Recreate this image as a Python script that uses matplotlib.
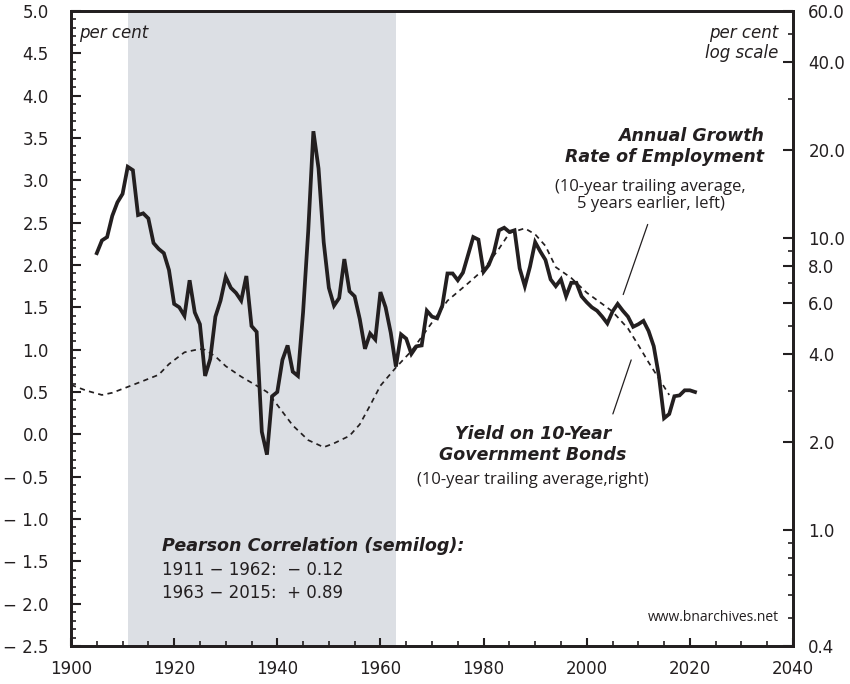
import numpy as np
import matplotlib
matplotlib.use("Agg")
import matplotlib.pyplot as plt
from matplotlib.ticker import FixedLocator, MultipleLocator, NullFormatter

plt.rcParams["font.family"] = ["DejaVu Sans"]

# employment growth, 10-yr trailing avg, 5 years earlier (left axis, %)
emp_years = list(range(1905, 2022))
emp_values = [
    2.14, 2.29, 2.33, 2.58, 2.74, 2.84, 3.16, 3.12, 2.59, 2.61,
    2.55, 2.26, 2.19, 2.14, 1.94, 1.54, 1.50, 1.40, 1.82, 1.44,
    1.30, 0.69, 0.89, 1.39, 1.58, 1.86, 1.73, 1.67, 1.58, 1.87,
    1.28, 1.21, 0.03, -0.24, 0.45, 0.50, 0.88, 1.05, 0.74, 0.69,
    1.44, 2.40, 3.58, 3.14, 2.27, 1.73, 1.52, 1.61, 2.07, 1.69,
    1.63, 1.36, 1.01, 1.19, 1.12, 1.68, 1.50, 1.20, 0.80, 1.18,
    1.13, 0.95, 1.04, 1.05, 1.46, 1.39, 1.37, 1.52, 1.90, 1.90,
    1.82, 1.91, 2.12, 2.33, 2.30, 1.92, 2.00, 2.15, 2.41, 2.44,
    2.39, 2.41, 1.96, 1.75, 1.98, 2.27, 2.16, 2.06, 1.83, 1.75,
    1.83, 1.63, 1.79, 1.79, 1.63, 1.56, 1.50, 1.46, 1.39, 1.31,
    1.45, 1.54, 1.46, 1.39, 1.27, 1.30, 1.34, 1.22, 1.04, 0.69,
    0.19, 0.24, 0.45, 0.46, 0.52, 0.52, 0.50,
]

# 10-year government bond yield, 10-yr trailing avg (right axis, log)
bond_years = [1900, 1903, 1906, 1908, 1911, 1914, 1917, 1919, 1922, 1925,
              1926, 1928, 1930, 1933, 1936, 1938, 1940, 1943, 1946, 1949,
              1951, 1954, 1956, 1958, 1960, 1963, 1966, 1969, 1973, 1977,
              1980, 1983, 1985, 1988, 1990, 1992, 1994, 1997, 2000, 2003,
              2005, 2008, 2010, 2012, 2014, 2016]
bond_values = [3.14, 3.00, 2.90, 2.95, 3.09, 3.24, 3.40, 3.70, 4.06, 4.17,
               4.14, 3.93, 3.64, 3.35, 3.12, 2.97, 2.68, 2.28, 2.03, 1.92,
               1.98, 2.10, 2.30, 2.67, 3.12, 3.60, 4.10, 4.85, 6.10, 7.00,
               7.80, 9.20, 10.4, 10.8, 10.3, 9.40, 7.95, 7.30, 6.50, 5.95,
               5.60, 4.90, 4.30, 3.75, 3.30, 2.90]

shade_start, shade_end = 1911, 1963

left_ticks = [-2.5, -2.0, -1.5, -1.0, -0.5, 0.0, 0.5, 1.0, 1.5, 2.0, 2.5, 3.0, 3.5, 4.0, 4.5, 5.0]
right_ticks = [0.4, 1.0, 2.0, 4.0, 6.0, 8.0, 10.0, 20.0, 40.0, 60.0]
x_ticks = [1900, 1920, 1940, 1960, 1980, 2000, 2020, 2040]


def fmt_left(v):
    if v < 0:
        return "\u2212 %.1f" % abs(v)
    return "%.1f" % v


fig = plt.figure(figsize=(8.5, 6.84), dpi=100)
ax = fig.add_axes([71 / 850, 1 - 646 / 684, (793 - 71) / 850, (646 - 11) / 684])
ax2 = ax.twinx()

# shading + dashed yield live on the lower (right) axes, employment on top
ax2.axvspan(shade_start, shade_end, color="#dcdfe4", lw=0, zorder=0)
ax2.plot(bond_years, bond_values, color="#231f20", lw=1.25, ls=(0, (3, 2.5)), zorder=2)
ax.plot(emp_years, emp_values, color="#231f20", lw=2.7, solid_joinstyle="miter", zorder=3)

ax.set_xlim(1900, 2040)
ax.set_ylim(-2.5, 5.0)
ax2.set_yscale("log")
ax2.set_ylim(0.4, 60)

ax.set_yticks(left_ticks)
ax.set_yticklabels([fmt_left(v) for v in left_ticks])
ax.yaxis.set_minor_locator(MultipleLocator(0.1))
ax.set_xticks(x_ticks)
ax.xaxis.set_minor_locator(MultipleLocator(5))

minor_r = [0.5, 0.6, 0.7, 0.8, 0.9, 3, 5, 7, 9, 30, 50]
ax2.yaxis.set_major_locator(FixedLocator(right_ticks))
ax2.set_yticklabels(["%.1f" % v for v in right_ticks])
ax2.yaxis.set_minor_locator(FixedLocator(minor_r))
ax2.yaxis.set_minor_formatter(NullFormatter())

for a in (ax, ax2):
    for s in a.spines.values():
        s.set_linewidth(2.0)
        s.set_color("#231f20")
    a.tick_params(which="major", direction="in", length=7, width=1.5, labelsize=12,
                  colors="#231f20")
    a.tick_params(which="minor", direction="in", length=3.5, width=1.2, colors="#231f20")
ax.tick_params(axis="x", which="major", pad=10, length=6)
ax.tick_params(axis="y", which="major", pad=16)
ax2.tick_params(axis="y", which="major", pad=11)

txt = "#231f20"
sub_font = ["Open Sans", "DejaVu Sans"]

ax.text(0.011, 0.98, "per cent", transform=ax.transAxes, style="italic",
        fontsize=12, ha="left", va="top", color=txt)
ax.text(0.98, 0.98, "per cent\nlog scale", transform=ax.transAxes, style="italic",
        fontsize=12, ha="right", va="top", color=txt, linespacing=1.15)

ax.text(2034.4, 3.40, "Annual Growth\nRate of Employment", fontsize=12.5, weight="bold",
        style="italic", ha="right", va="center", color=txt, linespacing=1.2)
ax.text(2012.4, 2.82, "(10-year trailing average,\n5 years earlier, left)", fontsize=12,
        family=sub_font, ha="center", va="center", color=txt, linespacing=1.1)
ax.annotate("", xy=(2006.9, 1.62), xytext=(2012.0, 2.51),
            arrowprops=dict(arrowstyle="-", color=txt, lw=0.9))

ax.text(1989.6, -0.12, "Yield on 10-Year\nGovernment Bonds", fontsize=12.5, weight="bold",
        style="italic", ha="center", va="center", color=txt, linespacing=1.2)
ax.text(1989.6, -0.54, "(10-year trailing average,right)", fontsize=12,
        family=sub_font, ha="center", va="center", color=txt)
ax.annotate("", xy=(2008.8, 0.91), xytext=(2004.9, 0.21),
            arrowprops=dict(arrowstyle="-", color=txt, lw=0.9))

ax.text(1917.7, -1.32, "Pearson Correlation (semilog):", fontsize=12.6, weight="bold",
        style="italic", ha="left", va="center", color=txt)
ax.text(1917.7, -1.60, "1911 \u2212 1962:  \u2212 0.12", fontsize=12,
        ha="left", va="center", color=txt)
ax.text(1917.7, -1.87, "1963 \u2212 2015:  + 0.89", fontsize=12,
        ha="left", va="center", color=txt)

ax.text(0.98, 0.045, "www.bnarchives.net", transform=ax.transAxes, fontsize=10,
        family=sub_font, ha="right", va="center", color=txt)

ax.set_zorder(ax2.get_zorder() + 1)
ax.patch.set_visible(False)

fig.savefig("out.png", dpi=100)
